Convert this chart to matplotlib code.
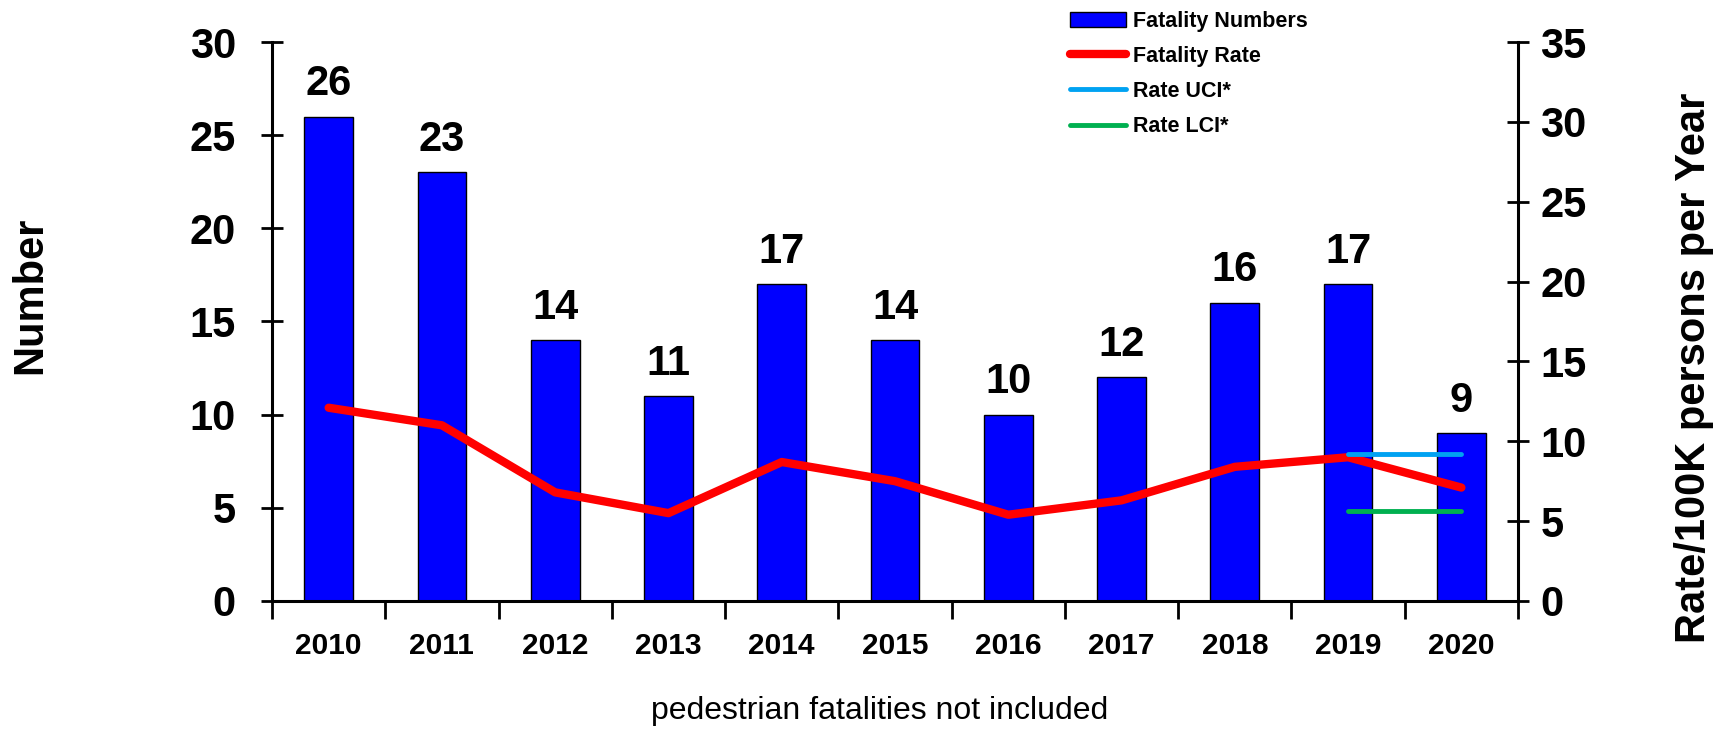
import matplotlib
matplotlib.use("Agg")
import matplotlib.pyplot as plt
import numpy as np

plt.rcParams['font.family'] = ['Liberation Sans', 'DejaVu Sans']

years = ["2010", "2011", "2012", "2013", "2014", "2015", "2016", "2017", "2018", "2019", "2020"]
fatality_numbers = [26, 23, 14, 11, 17, 14, 10, 12, 16, 17, 9]
fatality_rate = [12.1, 11.0, 6.8, 5.5, 8.7, 7.5, 5.4, 6.3, 8.4, 9.0, 7.1]
ci_years = ["2019", "2020"]
rate_uci = [9.2, 9.2]
rate_lci = [5.65, 5.65]

fig = plt.figure(figsize=(17.25, 7.32), dpi=100)
ax = fig.add_axes([0.1577, 0.179, 0.7223, 0.7636])
x = np.arange(len(years))
ci_x = [years.index(y) for y in ci_years]

bars = ax.bar(x, fatality_numbers, width=0.43, color='#0000FF', edgecolor='black',
              linewidth=1, label='Fatality Numbers')
for xi, v in zip(x, fatality_numbers):
	ax.annotate(str(v), (xi, v), xytext=(0, 9), textcoords='offset points',
	            ha='center', va='bottom', fontsize=30, fontweight='bold')

ax.set_xlim(-0.5, len(years) - 0.5)
ax.set_ylim(0, 30)
ax.set_yticks(np.arange(0, 31, 5))
ax.set_xticks(x)
ax.set_xticklabels(years, fontsize=21.5, fontweight='bold')
ax.set_xticks(np.arange(-0.5, len(years), 1), minor=True)
ax.tick_params(axis='x', which='major', length=0, pad=22)
ax.tick_params(axis='x', which='minor', length=13, width=2, direction='out')
ax.tick_params(axis='y', length=16, width=2, direction='inout', labelsize=30, pad=18)
for lab in ax.get_yticklabels():
	lab.set_fontweight('bold')
ax.spines['top'].set_visible(False)
ax.spines['right'].set_visible(False)
for s in ['left', 'bottom']:
	ax.spines[s].set_linewidth(2.2)
ax.set_ylabel("Number", fontsize=30, fontweight='bold')
ax.yaxis.set_label_coords(-0.178, 0.547)

ax2 = ax.twinx()
ax2.plot(x, fatality_rate, color='#FF0000', linewidth=6, solid_capstyle='round',
         label='Fatality Rate')
ax2.plot(ci_x, rate_uci, color='#00A2F2', linewidth=3.5, solid_capstyle='round',
         label='Rate UCI*')
ax2.plot(ci_x, rate_lci, color='#00B050', linewidth=3.5, solid_capstyle='round',
         label='Rate LCI*')
ax2.set_ylim(0, 35)
ax2.set_yticks(np.arange(0, 36, 5))
ax2.tick_params(axis='y', length=16, width=2, direction='inout', labelsize=30, pad=8)
for lab in ax2.get_yticklabels():
	lab.set_fontweight('bold')
ax2.spines['top'].set_visible(False)
ax2.spines['left'].set_visible(False)
ax2.spines['bottom'].set_visible(False)
ax2.spines['right'].set_linewidth(2.2)
ax2.set_ylabel("Rate/100K persons per Year", fontsize=30, fontweight='bold')
ax2.yaxis.set_label_coords(1.125, 0.417)

handles = [bars] + ax2.get_lines()
labels = [h.get_label() for h in handles]
fig.legend(handles, labels, loc='upper left', bbox_to_anchor=(0.609, 1.012),
           frameon=False, prop={'weight': 'bold', 'size': 15.5},
           handlelength=2.6, labelspacing=0.66, handletextpad=0.35)

fig.text(0.51, 0.008, "pedestrian fatalities not included", ha='center', va='bottom', fontsize=23)

plt.savefig("out.png", dpi=100)
